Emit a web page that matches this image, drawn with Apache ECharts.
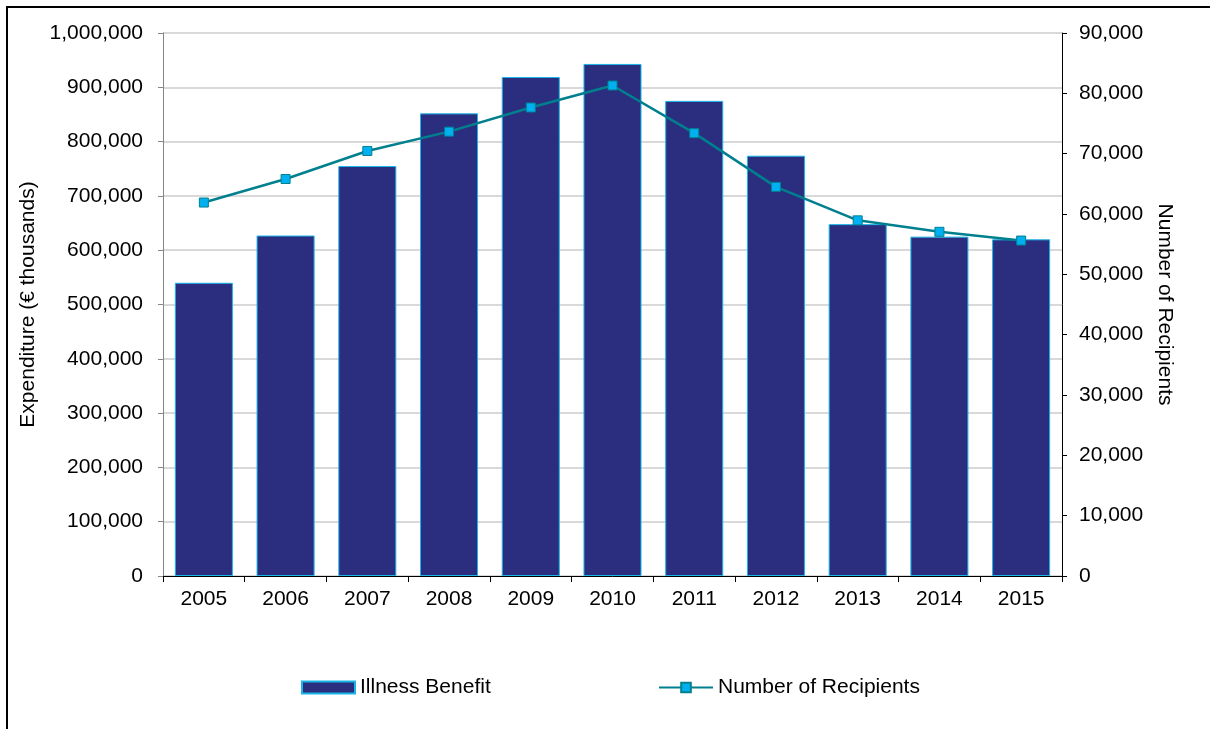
<!DOCTYPE html>
<html>
<head>
<meta charset="utf-8">
<script src="https://cdn.jsdelivr.net/npm/echarts@6/dist/echarts.min.js"></script>
<style>
  html, body { margin: 0; padding: 0; background: #fff; }
  #chart { width: 1210px; height: 729px; }
</style>
</head>
<body>
<div id="chart"></div>
<script>
// Illness Benefit expenditure and recipients, 2005-2015
var years = ['2005', '2006', '2007', '2008', '2009', '2010', '2011', '2012', '2013', '2014', '2015'];
var expenditure = [540000, 627000, 755000, 852000, 919000, 943000, 875000, 774000, 648000, 625000, 620000];
var recipients = [61900, 65800, 70450, 73650, 77650, 81300, 73400, 64500, 58950, 57050, 55600];
var leftTicks = { min: 0, max: 1000000, interval: 100000 };
var rightTicks = { min: 0, max: 90000, interval: 10000 };

var fontFamily = '"Liberation Sans", Arial, sans-serif';
var fontSize = 21;
var fmt = function (v) { return v.toLocaleString('en-US'); };

var chart = echarts.init(document.getElementById('chart'), null, { renderer: 'canvas' });

chart.setOption({
  animation: false,
  backgroundColor: '#ffffff',
  textStyle: { fontFamily: fontFamily },
  graphic: [{
    type: 'rect',
    shape: { x: 7, y: 7, width: 1210, height: 740 },
    style: { fill: 'none', stroke: '#000000', lineWidth: 2 },
    silent: true,
    z: 100
  }],
  grid: { left: 163, right: 148, top: 33, bottom: 153, containLabel: false },
  legend: [{
    left: 296, top: 672,
    itemWidth: 53, itemHeight: 12, itemGap: 5,
    textStyle: { fontSize: fontSize, color: '#000', fontFamily: fontFamily },
    data: [{ name: 'Illness Benefit', icon: 'rect' }]
  }, {
    left: 653, top: 672,
    itemWidth: 54, itemHeight: 12, itemGap: 5,
    textStyle: { fontSize: fontSize, color: '#000', fontFamily: fontFamily },
    data: [{ name: 'Number of Recipients' }]
  }],
  xAxis: {
    type: 'category',
    data: years,
    boundaryGap: true,
    axisLine: { lineStyle: { color: '#000', width: 1 } },
    axisTick: { show: true, length: 6, lineStyle: { color: '#000' } },
    axisLabel: { fontSize: fontSize, color: '#000', margin: 13, fontFamily: fontFamily },
    splitLine: { show: false }
  },
  yAxis: [{
    type: 'value',
    min: leftTicks.min, max: leftTicks.max, interval: leftTicks.interval,
    name: 'Expenditure (€ thousands)',
    nameLocation: 'middle',
    nameGap: 119,
    nameTextStyle: { fontSize: fontSize, color: '#000', fontFamily: fontFamily },
    axisLine: { show: true, lineStyle: { color: '#868686', width: 1 } },
    axisTick: { show: true, length: 5, lineStyle: { color: '#868686' } },
    axisLabel: { fontSize: fontSize, color: '#000', margin: 20, formatter: fmt, fontFamily: fontFamily },
    splitLine: { show: true, lineStyle: { color: '#d9d9d9', width: 2 } }
  }, {
    type: 'value',
    position: 'right',
    min: rightTicks.min, max: rightTicks.max, interval: rightTicks.interval,
    name: 'Number of Recipients',
    nameLocation: 'middle',
    nameGap: 91,
    nameRotate: -90,
    nameTextStyle: { fontSize: fontSize, color: '#000', fontFamily: fontFamily },
    axisLine: { show: true, lineStyle: { color: '#000', width: 1 } },
    axisTick: { show: true, length: 5, lineStyle: { color: '#000' } },
    axisLabel: { fontSize: fontSize, color: '#000', margin: 17, formatter: fmt, fontFamily: fontFamily },
    splitLine: { show: false }
  }],
  series: [{
    name: 'Illness Benefit',
    type: 'bar',
    yAxisIndex: 0,
    data: expenditure,
    barCategoryGap: '29%',
    itemStyle: { color: '#2b2e7e', borderColor: '#19b5e8', borderWidth: 1 }
  }, {
    name: 'Number of Recipients',
    type: 'line',
    yAxisIndex: 1,
    data: recipients,
    symbol: 'rect',
    symbolSize: 9,
    lineStyle: { color: '#00808f', width: 2.5 },
    itemStyle: { color: '#00b0f0', borderColor: '#00808f', borderWidth: 1 },
    z: 5
  }]
});
</script>
</body>
</html>
